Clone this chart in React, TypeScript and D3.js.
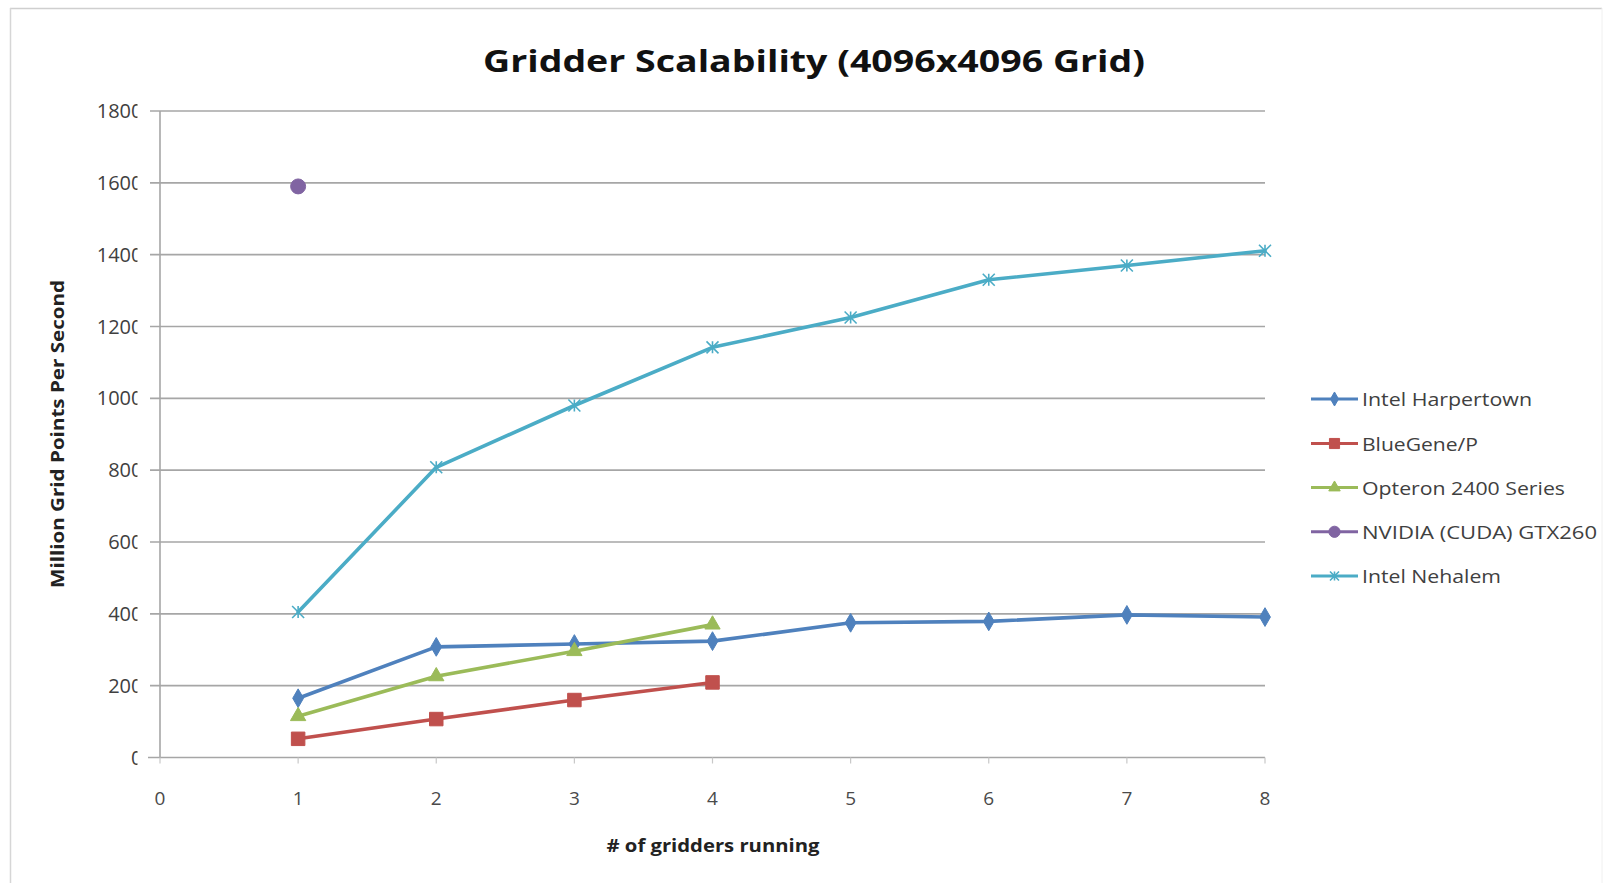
import React, { useEffect } from 'react';
import * as d3 from 'd3';

const gridders = [1, 2, 3, 4, 5, 6, 7, 8];
const harpertown = [165, 308, 316, 324, 375, 379, 397, 391];
const blueGene = [52, 107, 160, 209];
const opteron = [115, 226, 296, 370];
const nvidia = [1590];
const nehalem = [405, 808, 980, 1142, 1225, 1330, 1370, 1411];

const seriesNames = ['Intel Harpertown', 'BlueGene/P', 'Opteron 2400 Series', 'NVIDIA (CUDA) GTX260', 'Intel Nehalem'];
const seriesColors = ['#4F81BD', '#C0504D', '#9BBB59', '#8064A2', '#4BACC6'];
const seriesMarkers = ['diamond', 'square', 'triangle', 'circle', 'star'];
const seriesValues = [harpertown, blueGene, opteron, nvidia, nehalem];
const legendWidths = [170, 116, 203, 235, 139];

const xTicks = [0, 1, 2, 3, 4, 5, 6, 7, 8];
const yTicks = [0, 200, 400, 600, 800, 1000, 1200, 1400, 1600, 1800];

const titleText = 'Gridder Scalability (4096x4096 Grid)';
const xTitle = '# of gridders running';
const yTitle = 'Million Grid Points Per Second';

const W = 1613;
const H = 883;
const plot = { left: 160, right: 1265, top: 111, bottom: 757.5 };

const x = d3.scaleLinear().domain([0, 8]).range([plot.left, plot.right]);
const y = d3.scaleLinear().domain([0, 1800]).range([plot.bottom, plot.top]);

function markerPath(kind: string, size: number): string {
  if (kind === 'star') {
    const r = size / 2;
    return `M${-r},${-r}L${r},${r}M${-r},${r}L${r},${-r}M0,${-r}L0,${r}`;
  }
  const type =
    kind === 'diamond' ? d3.symbolDiamond :
    kind === 'square' ? d3.symbolSquare :
    kind === 'triangle' ? d3.symbolTriangle : d3.symbolCircle;
  const k = kind === 'diamond' ? 0.6 : kind === 'triangle' ? 0.6 : kind === 'circle' ? 0.78 : 1;
  return d3.symbol().type(type).size(size * size * k)() as string;
}

const markerSizes: Record<string, number> = { diamond: 13, square: 13.5, triangle: 13, circle: 15, star: 12 };

function Marker({ kind, color, cx, cy, scale = 1 }: { kind: string; color: string; cx: number; cy: number; scale?: number }) {
  const s = markerSizes[kind] * scale;
  if (kind === 'star') {
    return <path d={markerPath(kind, s)} transform={`translate(${cx},${cy})`} stroke={color} strokeWidth={1.6} fill="none" />;
  }
  return <path d={markerPath(kind, s)} transform={`translate(${cx},${cy})`} fill={color} stroke={color} strokeWidth={1} />;
}

export default function App() {
  useEffect(() => {
    document.body.style.margin = '0';
  }, []);

  const line = d3.line<number>().x((_, i) => x(gridders[i])).y((d) => y(d));
  const font = "'Open Sans', 'Noto Sans', sans-serif";
  const legendY = [399, 443.5, 487.6, 531.8, 576];

  return (
    <svg width={W} height={H} style={{ display: 'block', background: '#fff' }} fontFamily={font}>
      <defs>
        <clipPath id="ylabclip">
          <rect x={0} y={0} width={137.5} height={H} />
        </clipPath>
      </defs>
      <line x1={10} x2={1602} y1={8.5} y2={8.5} stroke="#cfcfcf" strokeWidth={1.5} />
      <line x1={10.5} x2={10.5} y1={8} y2={H} stroke="#d6d6d6" strokeWidth={1.5} />
      <line x1={1602} x2={1602} y1={8} y2={H} stroke="#f0f0f0" strokeWidth={1} />

      <text x={814} y={72} textAnchor="middle" fontSize={31} fontWeight="bold" fill="#111" textLength={662} lengthAdjust="spacingAndGlyphs">
        {titleText}
      </text>

      {yTicks.map((t) => (
        <line key={'g' + t} x1={t === 0 ? 148 : 150} x2={plot.right} y1={y(t)} y2={y(t)} stroke="#a6a6a6" strokeWidth={1.6} />
      ))}
      <line x1={plot.left} x2={plot.left} y1={plot.top} y2={plot.bottom} stroke="#a6a6a6" strokeWidth={1.6} />
      {xTicks.map((t) => (
        <line key={'xt' + t} x1={x(t)} x2={x(t)} y1={plot.bottom} y2={plot.bottom + 6} stroke="#c8c8c8" strokeWidth={1.2} />
      ))}

      <g clipPath="url(#ylabclip)">
        {yTicks.map((t) => (
          <text key={'yl' + t} x={142.5} y={y(t) + 7} textAnchor="end" fontSize={20} fill="#404040">
            {String(t)}
          </text>
        ))}
      </g>
      {xTicks.map((t) => (
        <text key={'xl' + t} x={x(t)} y={805} textAnchor="middle" fontSize={19} fill="#4a4a4a">
          {String(t)}
        </text>
      ))}

      <text x={713} y={852} textAnchor="middle" fontSize={17} fontWeight="bold" fill="#222" textLength={213} lengthAdjust="spacingAndGlyphs">
        {xTitle}
      </text>
      <text transform="translate(64,434) rotate(-90)" textAnchor="middle" fontSize={17} fontWeight="bold" fill="#222" textLength={308} lengthAdjust="spacingAndGlyphs">
        {yTitle}
      </text>

      {seriesValues.map((vals, si) => (
        <g key={'s' + si}>
          {vals.length > 1 && (
            <path d={line(vals) as string} fill="none" stroke={seriesColors[si]} strokeWidth={3.6} strokeLinejoin="round" strokeLinecap="round" />
          )}
          {vals.map((v, i) => (
            <Marker key={i} kind={seriesMarkers[si]} color={seriesColors[si]} cx={x(gridders[i])} cy={y(v)} />
          ))}
        </g>
      ))}

      {seriesNames.map((name, i) => (
        <g key={'lg' + i}>
          <line x1={1311} x2={1358} y1={legendY[i]} y2={legendY[i]} stroke={seriesColors[i]} strokeWidth={3} />
          <Marker kind={seriesMarkers[i]} color={seriesColors[i]} cx={1334.5} cy={legendY[i]} scale={0.75} />
          <text x={1362} y={legendY[i] + 7} fontSize={19} fill="#404040" textLength={legendWidths[i]} lengthAdjust="spacingAndGlyphs">
            {name}
          </text>
        </g>
      ))}
    </svg>
  );
}
